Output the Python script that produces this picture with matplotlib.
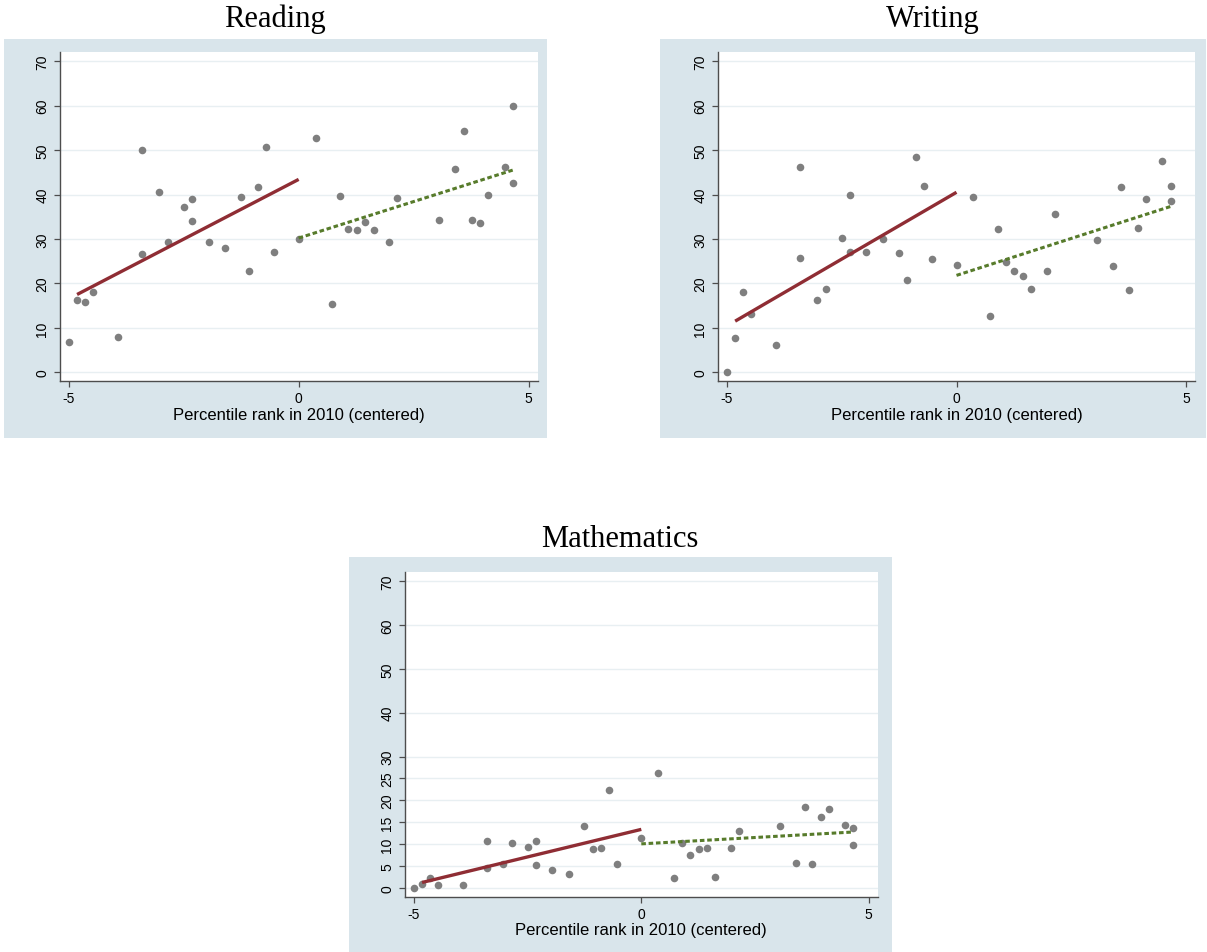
import matplotlib
matplotlib.use('Agg')
import matplotlib.pyplot as plt
from matplotlib.patches import Rectangle

plt.rcParams['font.family'] = ['Liberation Sans', 'DejaVu Sans']
plt.rcParams['axes.unicode_minus'] = False

# percentile rank in 2010 (centered), same units in every panel
rank = [-5.00, -4.82, -4.65, -4.47, -3.93, -3.40, -3.40, -3.03, -2.85, -2.50,
        -2.32, -2.32, -1.96, -1.60, -1.25, -1.07, -0.89, -0.71, -0.53, 0.00,
        0.37, 0.72, 0.90, 1.08, 1.26, 1.44, 1.63, 1.97, 2.15, 3.05,
        3.41, 3.59, 3.76, 3.95, 4.12, 4.48, 4.66, 4.66]

reading = [6.9, 16.2, 15.8, 18.0, 7.9, 50.1, 26.5, 40.5, 29.4, 37.3,
           38.9, 34.1, 29.3, 27.9, 39.5, 22.7, 41.6, 50.6, 27.0, 29.9,
           52.7, 15.4, 39.6, 32.3, 32.1, 33.9, 32.0, 29.3, 39.2, 34.2,
           45.8, 54.3, 34.2, 33.6, 39.8, 46.1, 59.9, 42.6]

writing = [0.0, 7.7, 18.0, 13.0, 6.2, 46.1, 25.7, 16.3, 18.8, 30.2,
           39.8, 27.0, 27.0, 29.9, 26.9, 20.8, 48.5, 41.9, 25.4, 24.2,
           39.5, 12.6, 32.3, 24.8, 22.8, 21.6, 18.7, 22.8, 35.6, 29.7,
           24.0, 41.7, 18.5, 32.4, 38.9, 47.6, 41.9, 38.6]

maths = [0.0, 0.9, 2.4, 0.8, 0.8, 10.7, 4.5, 5.4, 10.4, 9.4,
         10.7, 5.3, 4.1, 3.2, 14.1, 8.9, 9.2, 22.4, 5.4, 11.4,
         26.3, 2.3, 10.2, 7.6, 8.9, 9.2, 2.6, 9.2, 13.0, 14.1,
         5.7, 18.5, 5.4, 16.2, 18.1, 14.3, 13.8, 9.8]

# linear fits below / above the cutoff (values at the two ends)
left_x = [-4.82, 0.0]
right_x = [0.0, 4.66]
reading_left = [17.5, 43.4]
reading_right = [30.2, 45.5]
writing_left = [11.5, 40.5]
writing_right = [21.8, 37.3]
maths_left = [1.3, 13.4]
maths_right = [10.1, 12.8]

ticks_main = [0, 10, 20, 30, 40, 50, 60, 70]
ticks_math = [0, 5, 10, 15, 20, 25, 30, 40, 50, 60, 70]

W, H = 1207, 953
BG = '#d9e5eb'
GRID = '#e8eff2'
RED = '#8f2d34'
GREEN = '#577b2b'
DOT = '#7f7f7f'

fig = plt.figure(figsize=(W / 100, H / 100), dpi=100)


def rect(l, t, r, b):
    return [l / W, 1 - b / H, (r - l) / W, (b - t) / H]


def panel(title, y, fit_l, fit_r, yticks, outer, inner, title_y):
    l, t, r, b = outer
    fig.add_artist(Rectangle((l / W, 1 - b / H), (r - l) / W, (b - t) / H,
                             transform=fig.transFigure, facecolor=BG,
                             edgecolor='none', zorder=-1))
    fig.text((l + r) / 2 / W, 1 - title_y / H, title, ha='center', va='baseline',
             fontsize=22, family=['Liberation Serif', 'DejaVu Serif'])
    ax = fig.add_axes(rect(*inner))
    ax.set_facecolor('white')
    for yt in yticks:
        ax.axhline(yt, color=GRID, lw=1.0, zorder=0)
    ax.scatter(rank, y, s=30, color=DOT, linewidths=0, zorder=2)
    ax.plot(left_x, fit_l, color=RED, lw=2.4, solid_capstyle='butt', zorder=3)
    ax.plot(right_x, fit_r, color=GREEN, lw=2.2, dash_capstyle='butt',
            linestyle=(0, (1.5, 0.9)), zorder=3)
    ax.set_xlim(-5.2, 5.2)
    ax.set_ylim(-1.9, 72)
    ax.set_xticks([-5, 0, 5])
    ax.set_yticks(yticks)
    ax.spines['top'].set_visible(False)
    ax.spines['right'].set_visible(False)
    for s in ('left', 'bottom'):
        ax.spines[s].set_color('#4d4d4d')
        ax.spines[s].set_linewidth(1.0)
    ax.tick_params(axis='both', direction='out', length=4.5, width=0.9,
                   color='#4d4d4d', labelsize=10, pad=3)
    ax.tick_params(axis='y', labelrotation=90)
    for lab in ax.get_yticklabels():
        lab.set_va('center')
    ax.set_xlabel('Percentile rank in 2010 (centered)', fontsize=12, labelpad=1)
    return ax


panel('Reading', reading, reading_left, reading_right, ticks_main,
      (3.5, 40, 547, 439), (59.6, 53.3, 537.7, 381.7), 26.7)
panel('Writing', writing, writing_left, writing_right, ticks_main,
      (660, 40, 1206, 439), (717.7, 53.3, 1195.3, 381.7), 26.7)
panel('Mathematics', maths, maths_left, maths_right, ticks_math,
      (348.5, 558.3, 891.7, 953), (404.8, 573.3, 877.8, 897.5), 546.7)

fig.savefig('out.png', dpi=100)
